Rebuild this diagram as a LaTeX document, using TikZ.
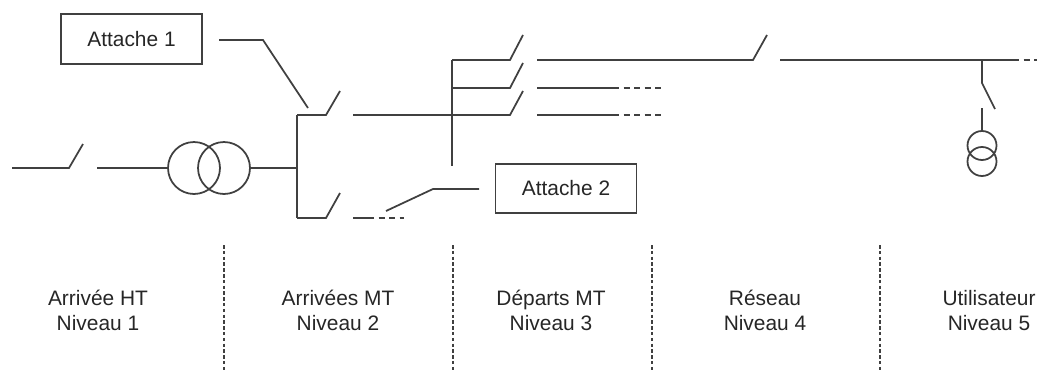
\documentclass[tikz,border=0pt]{standalone}
\usepackage{fontspec}
\setmainfont{Liberation Sans}

\begin{document}
\begin{tikzpicture}[x=0.02cm,y=-0.02cm,line width=1pt,black!75,
  box/.style={rectangle,draw,minimum width=2.82cm,minimum height=0.99cm,inner sep=0pt,text=black!85,font=\fontsize{11.9}{13.7}\selectfont},
  trafo/.style={circle,draw,inner sep=0pt,minimum size=1.04cm},
  ptrafo/.style={circle,draw,inner sep=0pt,minimum size=0.58cm},
  level/.style={align=center,inner sep=0pt,anchor=base,text=black!85,font=\fontsize{11.9}{13.7}\selectfont},
  sep/.style={line width=0.6pt,dash pattern=on 2pt off 1.3pt},
  suite/.style={dash pattern=on 3.4pt off 2.6pt}]
\useasboundingbox (0,0) rectangle (1037,372);

\path (131.5,39) node[box] (att1) {Attache 1};
\path (566,188.5) node[box] (att2) {Attache 2};

\path (194,168) node[trafo] (T1) {};
\path (224,168) node[trafo] (T2) {};
\draw (12,168) -- (69,168) -- (83,144);
\draw (97,168) -- (T1.west);
\draw (T2.east) -- (297,168);

\draw (297,115) -- (297,218);
\draw (297,115) -- (326,115) -- (340,91);
\draw (297,218) -- (326,218) -- (340,193);
\draw (353,115) -- (510,115) -- (523,91);
\draw (353,218) -- (368,218);
\draw[suite] (368,218) -- (404,218);

\draw (452,60) -- (452,166);
\draw (452,60) -- (510,60) -- (523,35);
\draw (452,88) -- (510,88) -- (523,63);

\draw (537,60) -- (753,60) -- (767,35);
\draw (780,60) -- (1013,60);
\draw[suite] (1013,60) -- (1037,60);
\draw (537,88) -- (613,88);
\draw[suite] (613,88) -- (662,88);
\draw (537,115) -- (613,115);
\draw[suite] (613,115) -- (662,115);

\path (982,145.5) node[ptrafo] (P1) {};
\path (982,161.5) node[ptrafo] (P2) {};
\draw (982,60) -- (982,83) -- (995,109);
\draw (982,108) -- (P1.north);

\path (219,40) coordinate (l1a) (263,40) coordinate (l1b) (308,108) coordinate (l1c);
\draw (l1a) -- (l1b) -- (l1c);
\path (386,211) coordinate (l2a) (433,189) coordinate (l2b) (479,189) coordinate (l2c);
\draw (l2a) -- (l2b) -- (l2c);

\draw[sep] (224,245) -- (224,372);
\draw[sep] (453,245) -- (453,372);
\draw[sep] (652,245) -- (652,372);
\draw[sep] (880,245) -- (880,372);

\path (98,330) node[level] (niv1) {Arrivée HT\\Niveau 1};
\path (338,330) node[level] (niv2) {Arrivées MT\\Niveau 2};
\path (551,330) node[level] (niv3) {Départs MT\\Niveau 3};
\path (765,330) node[level] (niv4) {Réseau\\Niveau 4};
\path (989,330) node[level] (niv5) {Utilisateur\\Niveau 5};
\end{tikzpicture}
\end{document}
